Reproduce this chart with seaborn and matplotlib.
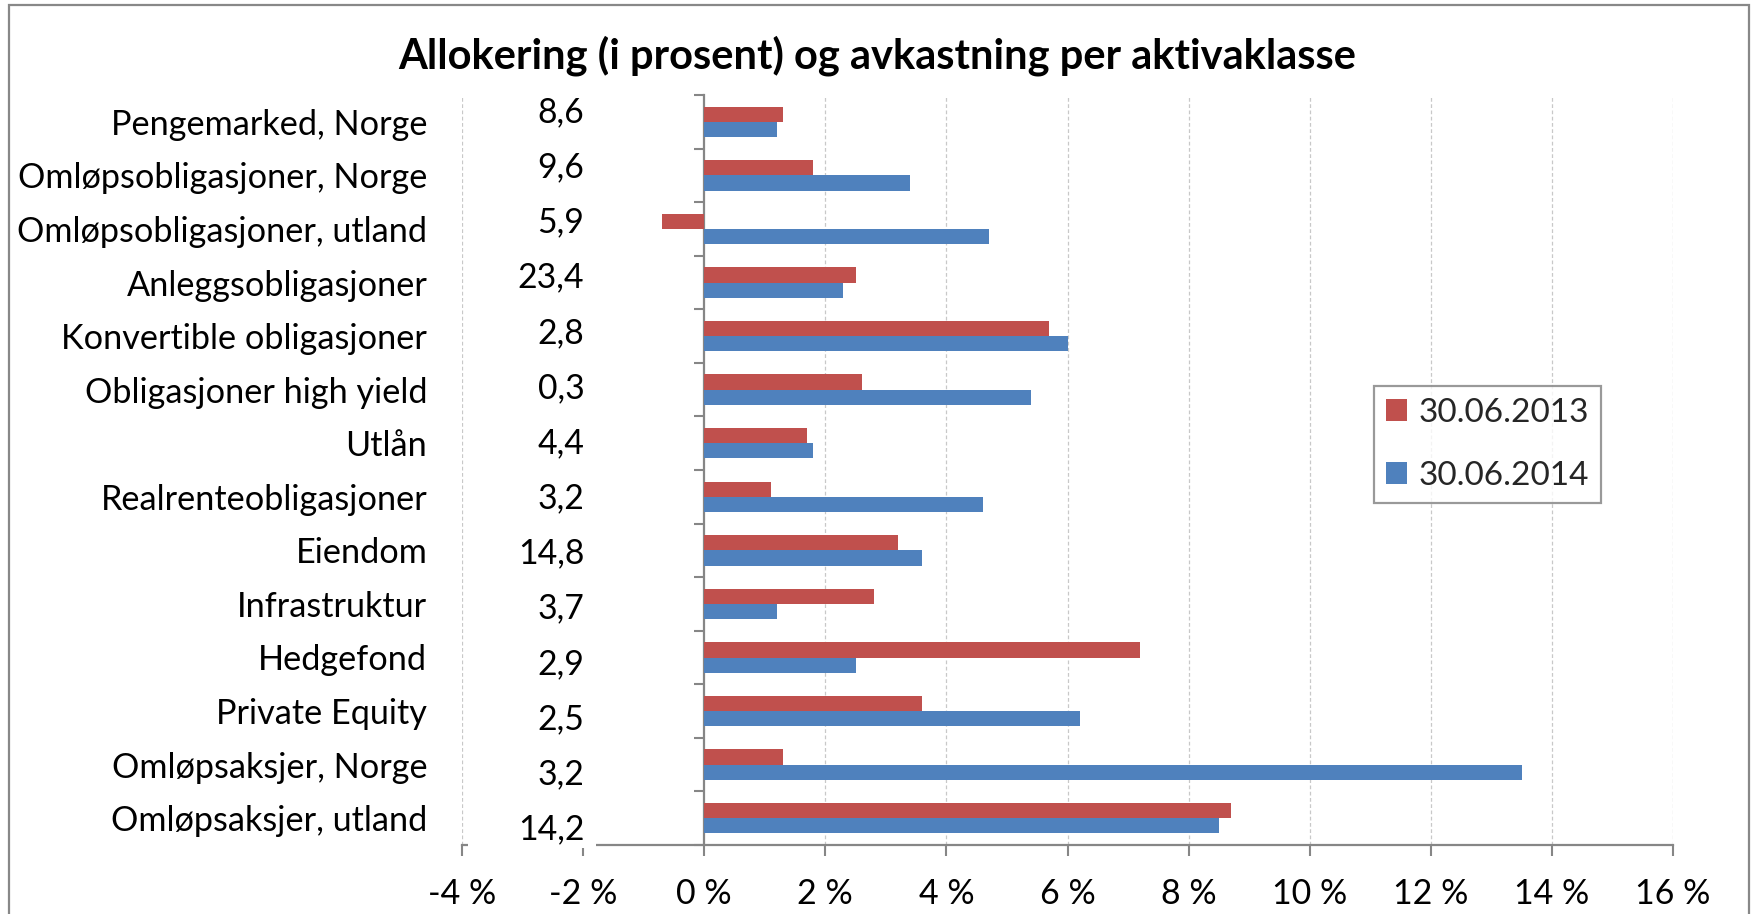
import matplotlib
matplotlib.use("Agg")
import matplotlib.pyplot as plt
from matplotlib.patches import Rectangle
import matplotlib.transforms as mtransforms
import seaborn as sns
import pandas as pd

# ---- data ----
categories = [
    "Pengemarked, Norge",
    "Omløpsobligasjoner, Norge",
    "Omløpsobligasjoner, utland",
    "Anleggsobligasjoner",
    "Konvertible obligasjoner",
    "Obligasjoner high yield",
    "Utlån",
    "Realrenteobligasjoner",
    "Eiendom",
    "Infrastruktur",
    "Hedgefond",
    "Private Equity",
    "Omløpsaksjer, Norge",
    "Omløpsaksjer, utland",
]
allocation_labels = ["8,6", "9,6", "5,9", "23,4", "2,8", "0,3", "4,4",
                     "3,2", "14,8", "3,7", "2,9", "2,5", "3,2", "14,2"]
series_names = ["30.06.2013", "30.06.2014"]
returns_2013 = [1.3, 1.8, -0.7, 2.5, 5.7, 2.6, 1.7, 1.1, 3.2, 2.8, 7.2, 3.6, 1.3, 8.7]
returns_2014 = [1.2, 3.4, 4.7, 2.3, 6.0, 5.4, 1.8, 4.6, 3.6, 1.2, 2.5, 6.2, 13.5, 8.5]
x_ticks = [-4, -2, 0, 2, 4, 6, 8, 10, 12, 14, 16]
x_tick_labels = ["-4 %", "-2 %", "0 %", "2 %", "4 %", "6 %", "8 %",
                 "10 %", "12 %", "14 %", "16 %"]
title = "Allokering (i prosent) og avkastning per aktivaklasse"

RED = "#C0504D"
BLUE = "#4F81BD"
GREY = "#868686"

df = pd.DataFrame({
    "Kategori": categories * 2,
    "Serie": [series_names[0]] * len(categories) + [series_names[1]] * len(categories),
    "Avkastning": returns_2013 + returns_2014,
})

sns.set_theme(style="white")
plt.rcParams["font.family"] = ["Lato", "DejaVu Sans"]

FS_CAT = 24.7
FS_VAL = 24.3
FS_TICK = 24.5
FS_LEG = 24
FS_TITLE = 30

W, H = 1754, 914
fig = plt.figure(figsize=(W / 100, H / 100), dpi=100)
ax = fig.add_axes([462 / W, 1 - 845 / H, (1673 - 462) / W, (845 - 95) / H])

sns.barplot(data=df, y="Kategori", x="Avkastning", hue="Serie",
            hue_order=series_names, order=categories, orient="h",
            palette=[RED, BLUE], width=0.57, ax=ax, saturation=1,
            edgecolor="none", linewidth=0)

ax.set_xlim(-4, 16)
ax.set_ylim(len(categories) - 0.5, -0.5)
ax.set_xlabel("")
ax.set_ylabel("")

# x axis
ax.set_xticks(x_ticks)
ax.set_xticklabels(x_tick_labels, fontsize=FS_TICK, color="black")
ax.tick_params(axis="x", which="major", direction="out", length=8, width=1.5,
               color=GREY, pad=16, bottom=True)
ax.grid(axis="x", color="#C8C8C8", linestyle=(0, (3, 2)), linewidth=0.9)
ax.grid(axis="y", visible=False)
ax.set_axisbelow(True)
for gl, v in zip(ax.xaxis.get_gridlines(), x_ticks):
    if v in (-2, 0):
        gl.set_visible(False)

for s in ["top", "right", "left"]:
    ax.spines[s].set_visible(False)
ax.spines["bottom"].set_color(GREY)
ax.spines["bottom"].set_linewidth(1.6)

# y category labels at the far left
ax.set_yticks(range(len(categories)))
ax.set_yticklabels(categories, fontsize=FS_CAT, color="black")
ax.tick_params(axis="y", length=0, pad=25, left=True)

# y axis line at 0 with boundary ticks
sec = ax.secondary_yaxis(0.2)
sec.spines["left"].set_color(GREY)
sec.spines["left"].set_linewidth(1.6)
sec.set_yticks([i - 0.5 for i in range(len(categories) + 1)])
sec.tick_params(axis="y", length=7.5, width=1.5, color=GREY, labelleft=False,
                direction="out")

# white box behind allocation labels (covers axis line and grid there)
trans = mtransforms.blended_transform_factory(ax.transData, ax.transAxes)
ax.add_patch(Rectangle((-3.9, -0.004), 2.12, 1.004, transform=trans,
                       facecolor="white", edgecolor="none", zorder=3,
                       clip_on=False))

# allocation labels
for i, lab in enumerate(allocation_labels):
    ax.text(-1.98, i * 1.03 - 0.18, lab, ha="right", va="center",
            fontsize=FS_VAL, color="black", zorder=4)

# legend
leg = ax.legend(loc="upper left", bbox_to_anchor=(0.7534, 0.612),
                borderaxespad=0, fontsize=FS_LEG, frameon=True, fancybox=False,
                handlelength=0.62, handleheight=0.62, handletextpad=0.35,
                labelspacing=1.0, borderpad=0.35)
leg.get_frame().set_edgecolor("#808080")
leg.get_frame().set_linewidth(1.6)
leg.set_zorder(5)

fig.suptitle(title, x=0.5, y=1 - 56 / H, va="center", fontsize=FS_TITLE,
             fontweight="bold", color="black")

# chart border
fig.add_artist(Rectangle((9 / W, -0.05), (1749 - 9) / W, 1.05 - 5 / H,
                         transform=fig.transFigure, facecolor="none",
                         edgecolor="#888888", linewidth=1.6, zorder=10))

fig.savefig("out.png", dpi=100)
